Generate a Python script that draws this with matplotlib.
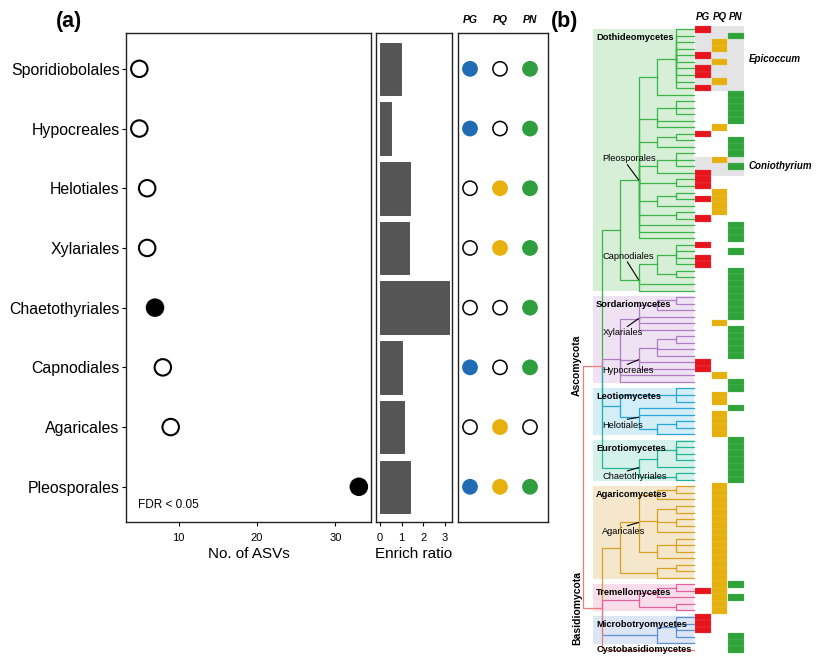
# Fungal orders enriched in the pathobiome: (a) ASV counts / enrichment, (b) tree

import matplotlib
matplotlib.use('Agg')
import matplotlib.pyplot as plt
from matplotlib.patches import Rectangle
import numpy as np

plt.rcParams['font.family'] = ['Liberation Sans', 'DejaVu Sans']

# ---------------- panel (a) data ----------------
orders = ['Sporidiobolales', 'Hypocreales', 'Helotiales', 'Xylariales',
          'Chaetothyriales', 'Capnodiales', 'Agaricales', 'Pleosporales']
n_asv = [5, 5, 6, 6, 7, 8, 9, 33]
fdr_sig = [False, False, False, False, True, False, False, True]
enrich = [0.98, 0.52, 1.41, 1.35, 3.17, 1.03, 1.12, 1.41]
pg = [1, 1, 0, 0, 0, 1, 0, 1]
pq = [0, 0, 1, 1, 0, 0, 1, 1]
pn = [1, 1, 1, 1, 1, 1, 0, 1]
groups = ['PG', 'PQ', 'PN']
dot_cols = ['#1f6cb5', '#e8b00f', '#2e9e3e']

# ---------------- panel (b) data ----------------
# nested lists: an int n means n tips hanging straight off that node
pleosporales = [[[10], 1], [[3], 1, 1], [[2], 1], [[3], 1], [2], [[2], 1], [2], 1, 1, 1]
capnodiales = [[[4], [2]], 1, 1]
xylariales = [[[2], 1], 1, 1, 1]
hypocreales = [[[2], 1, 1], 1, 1]
helotiales = [1, 1, [[2], 1]]
chaetothyriales = [[[4], 1], [2]]
agaricales = [[[2], 1], [[2], [2], 1], [[3], 1]]

dothideo = [pleosporales, capnodiales]
sordario = [xylariales, hypocreales, 1, 1]
leotio = [[3], helotiales]
agarico = [agaricales, [[2], 1]]
tremello = [[[2], 1], [2]]
microbotryo = [[4], 1]
cysto = [1]
ascomycota = [dothideo, sordario, leotio, chaetothyriales]
basidiomycota = [agarico, tremello, microbotryo, cysto]
tree = [ascomycota, basidiomycota]

class_nodes = [dothideo, sordario, leotio, chaetothyriales, agarico,
               tremello, microbotryo, cysto]
class_names = ['Dothideomycetes', 'Sordariomycetes', 'Leotiomycetes',
               'Eurotiomycetes', 'Agaricomycetes', 'Tremellomycetes',
               'Microbotryomycetes', 'Cystobasidiomycetes']
line_cols = ['#3bb44a', '#b07cc6', '#2aa6dc', '#22b39a', '#d6a225',
             '#e2629f', '#5b8fd8', '#f27a7a']
box_cols = ['#d7efd7', '#efe2f3', '#d3eef7', '#d4f1ea', '#f5e7cb',
            '#f9ddeb', '#dde6f5', None]
mixed_col = '#f27a7a'

order_labels = [(pleosporales, 'Pleosporales', -3.2),
                (capnodiales, 'Capnodiales', -3.6),
                (xylariales, 'Xylariales', 2.1),
                (hypocreales, 'Hypocreales', 1.6),
                (helotiales, 'Helotiales', 1.2),
                (chaetothyriales, 'Chaetothyriales', 1.4),
                (agaricales, 'Agaricales', 1.4)]
phyla = [(ascomycota, 'Ascomycota'), (basidiomycota, 'Basidiomycota')]

pg_rows = [0, 4, 6, 7, 9, 16, 22, 23, 24, 26, 29, 33, 35, 36, 51, 52, 86, 90, 91, 92]
pq_rows = [2, 3, 5, 8, 15, 20, 25, 26, 27, 28, 45, 53, 56, 57, 59, 60, 61, 62] + \
    list(range(70, 90))
pn_rows = [1, 10, 11, 12, 13, 14, 17, 18, 19, 21, 30, 31, 32, 34] + \
    list(range(37, 45)) + list(range(46, 51)) + [54, 55, 58] + \
    list(range(63, 70)) + [85, 87, 93, 94, 95]
genera = [('Epicoccum', 0, 9), ('Coniothyrium', 20, 22)]

# ---------------- figure ----------------
W, H = 825, 660
fig = plt.figure(figsize=(W / 100, H / 100), dpi=100)


def px_axes(l, t, r, b):
    return fig.add_axes([l / W, 1 - b / H, (r - l) / W, (b - t) / H])


ax1 = px_axes(126, 33, 371, 522)
ax2 = px_axes(376, 33, 452, 522)
ax3 = px_axes(458, 33, 548, 522)
axb = px_axes(560, 0, 825, 660)

ypos = np.arange(len(orders))
ylim = (7.59, -0.6)

face = ['black' if s else 'white' for s in fdr_sig]
ax1.scatter(n_asv, ypos, s=140, facecolors=face, edgecolors='black',
            linewidths=1.5, zorder=3, clip_on=False)
ax1.set_yticks(ypos)
ax1.set_yticklabels(orders, fontsize=11.4)
ax1.set_ylim(ylim)
ax1.set_xlim(3.3, 34.55)
ax1.set_xticks([10, 20, 30])
ax1.tick_params(axis='x', labelsize=8, length=3, pad=5)
ax1.tick_params(axis='y', length=3, pad=1.5)
ax1.set_xlabel('No. of ASVs', fontsize=11, labelpad=3)
ax1.text(0.049, 0.035, 'FDR < 0.05', transform=ax1.transAxes,
         fontsize=8.5, va='center')

ax2.barh(ypos, enrich, height=0.88, color='#555555', edgecolor='#474747', lw=0.6)
ax2.set_xlim(-0.18, 3.33)
ax2.set_ylim(ylim)
ax2.set_yticks([])
ax2.set_xticks([0, 1, 2, 3])
ax2.tick_params(axis='x', labelsize=8, length=3, pad=5)
ax2.set_xlabel('Enrich ratio', fontsize=11, labelpad=3)

for j, (vals, col) in enumerate(zip([pg, pq, pn], dot_cols)):
    fc = [col if v else 'white' for v in vals]
    ec = [col if v else 'black' for v in vals]
    ax3.scatter([j + 1] * len(vals), ypos, s=105, facecolors=fc,
                edgecolors=ec, linewidths=1.1, zorder=3)
    ax3.text(j + 1, 1.027, groups[j], transform=ax3.get_xaxis_transform(),
             ha='center', va='center', fontsize=7.5, fontweight='bold',
             fontstyle='italic')
ax3.set_xlim(0.6, 3.6)
ax3.set_ylim(ylim)
ax3.set_xticks([])
ax3.set_yticks([])

for ax in (ax1, ax2, ax3):
    for sp in ax.spines.values():
        sp.set_linewidth(1.0)
        sp.set_color('#222222')

fig.text(69 / W, 1 - 22 / H, '(a)', fontsize=15.5, fontweight='bold',
         ha='center', va='center')
fig.text(565 / W, 1 - 21 / H, '(b)', fontsize=15.5, fontweight='bold',
         ha='center', va='center')

# ---------------- panel (b): tree layout ----------------
class_ids = {id(n): k for k, n in enumerate(class_nodes)}
tip_class = []
edges = []
node_xy = {}


def place(node, cls):
    """Cladogram layout: tips at x=0, nodes at -height, y = mean of children."""
    cls = class_ids.get(id(node), cls)
    kids = []
    for ch in node:
        if isinstance(ch, int):
            for _ in range(ch):
                kids.append((0, len(tip_class), cls))
                tip_class.append(cls)
        else:
            kids.append(place(ch, cls))
    h = max(k[0] for k in kids) + 1
    y = np.mean([k[1] for k in kids])
    for kh, ky, kc in kids:
        col = line_cols[kc] if kc is not None else mixed_col
        edges.append((-h, y, -kh, ky, col))
    node_xy[id(node)] = (-h, y)
    return h, y, cls


place(tree, None)

axb.set_xlim((560 - 694) / 18.5, (825 - 694) / 18.5)
axb.set_ylim((660 - 29.3) / 6.53, (0 - 29.3) / 6.53)
axb.axis('off')

box_left = -5.46
for k, name in enumerate(class_names):
    rows = [i for i, c in enumerate(tip_class) if c == k]
    if box_cols[k] is not None:
        axb.add_patch(Rectangle((box_left, rows[0] - 0.12), -box_left,
                                rows[-1] - rows[0] + 0.24,
                                color=box_cols[k], lw=0, zorder=0))
    ly = rows[0] + 1.2 if len(rows) > 1 else rows[0]
    axb.text(box_left + 0.17, ly, name, fontsize=6.7, fontweight='bold',
             ha='left', va='center', zorder=4)

for px_, py_, cx_, cy_, col in edges:
    axb.plot([px_, px_, cx_], [py_, cy_, cy_], color=col, lw=0.9,
             solid_joinstyle='miter', zorder=2)

for node, name, dy in order_labels:
    nx, ny = node_xy[id(node)]
    axb.text(nx - 1.95, ny + dy, name, fontsize=6.7, ha='left', va='center',
             zorder=4)
    sy = ny + dy - np.sign(dy) * 0.9
    axb.plot([nx - 0.6, nx], [sy, ny], color='black', lw=0.8, zorder=4)

for node, name in phyla:
    nx, ny = node_xy[id(node)]
    axb.text(-6.32, ny, name, rotation=90, fontsize=7.5, fontweight='bold',
             ha='center', va='center', zorder=4)

# heatmap of group presence
col_x = [0.49, 1.38, 2.27]
cell_w = 0.86
for g, r0, r1 in genera:
    axb.add_patch(Rectangle((0.05, r0 - 0.5), 2.65, r1 - r0 + 1,
                            color='#e4e4e7', lw=0, zorder=0))
    axb.text(2.97, (r0 + r1) / 2, g, fontsize=7, fontweight='bold',
             fontstyle='italic', ha='left', va='center')

heat_cols = ['#e8141c', '#e6b00c', '#2fa23a']
heat_edges = ['#ee5a5f', '#ecc552', '#6cbf73']
for cx, rows, col, ecol, g in zip(col_x, [pg_rows, pq_rows, pn_rows],
                                  heat_cols, heat_edges, groups):
    for r in rows:
        axb.add_patch(Rectangle((cx - cell_w / 2, r - 0.5), cell_w, 1,
                                facecolor=col, edgecolor=ecol, lw=0.2,
                                zorder=3))
    axb.text(cx, -1.9, g, fontsize=7, fontweight='bold', fontstyle='italic',
             ha='center', va='center')

fig.savefig('out.png', dpi=100)
